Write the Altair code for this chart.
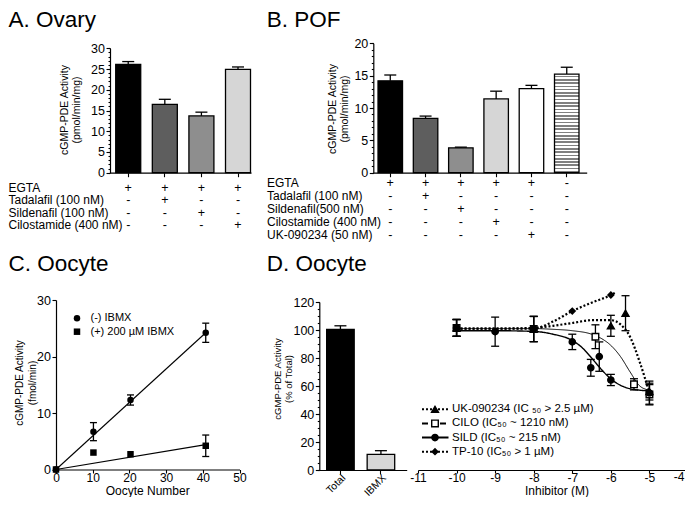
import altair as alt
import pandas as pd

FONT = "Liberation Sans"
W, H = 677, 489

# ---------------- data ----------------
panel_titles = ["A. Ovary", "B. POF", "C. Oocyte", "D. Oocyte"]

a_keys = ["EGTA", "Tadalafil", "Sildenafil", "Cilostamide"]
a_values = [26.1, 16.5, 13.7, 24.9]
a_sem = [0.7, 1.2, 0.9, 0.6]
a_rows = ["EGTA", "Tadalafil (100 nM)", "Sildenafil (100 nM)", "Cilostamide (400 nM)"]
a_signs = [["+", "+", "+", "+"],
           ["-", "+", "-", "-"],
           ["-", "-", "+", "-"],
           ["-", "-", "-", "+"]]
a_ytitle = "cGMP-PDE  Activity\n(pmol/min/mg)"

b_keys = ["EGTA", "Tadalafil", "Sildenafil", "Cilostamide", "UK-090234", "None"]
b_values = [14.2, 8.4, 3.85, 11.4, 13.0, 15.25]
b_sem = [0.9, 0.35, 0.1, 1.2, 0.5, 1.05]
b_rows = ["EGTA", "Tadalafil (100 nM)", "Sildenafil(500 nM)", "Cilostamide (400 nM)", "UK-090234 (50 nM)"]
b_signs = [["+", "+", "+", "+", "+", "-"],
           ["-", "+", "-", "-", "-", "-"],
           ["-", "-", "+", "-", "-", "-"],
           ["-", "-", "-", "+", "-", "-"],
           ["-", "-", "-", "-", "+", "-"]]
b_ytitle = "cGMP-PDE  Activity\n(pmol/min/mg)"

c_oocytes = [0, 10.2, 20.3, 40.8]
c_minus = [0, 6.7, 12.3, 24.2]
c_minus_sem = [0, 1.6, 0.9, 1.7]
c_plus = [0, 3.0, 2.7, 4.2]
c_plus_sem = [0, 0, 0, 1.9]
c_fit_x = [0, 40.8]
c_fit_minus = [0, 24.2]
c_fit_plus = [0, 4.4]
c_series = ["(-) IBMX", "(+) 200  \u00b5M IBMX"]
c_ytitle = "cGMP-PDE Activity\n(fmol/min)"
c_xtitle = "Oocyte Number"

d_bar_keys = ["Total", "IBMX"]
d_bar_values = [100.4, 11.2]
d_bar_sem = [2.6, 2.6]
d_ytitle = "cGMP-PDE  Activity\n(% of Total)"
d_xtitle = "Inhibitor (M)"
d_ticks = [-11, -10, -9, -8, -7, -6, -5, -4]
d_series = ["UK-090234", "CILO", "SILD", "TP-10"]
d_legend = ["UK-090234 (IC \u2085\u2080 > 2.5 \u00b5M)", "CILO (IC\u2085\u2080 ~ 1210 nM)",
            "SILD (IC\u2085\u2080 ~ 215 nM)", "TP-10 (IC\u2085\u2080 > 1 \u00b5M)"]

uk_x = [-10, -8, -6, -5.62, -5]
uk_y = [101.5, 100.7, 103, 112, 56]
uk_sem = [6, 9, 7.5, 12.5, 6]
cilo_x = [-10, -8, -6.4, -5.4, -5]
cilo_y = [101.5, 100.7, 95.2, 61.2, 54]
cilo_sem = [6, 9, 8.5, 4, 7]
sild_x = [-10, -9, -8, -7, -6.52, -6.3, -6, -5]
sild_y = [101.5, 98.8, 100.7, 91.5, 73, 81, 64.3, 55]
sild_sem = [6, 10.4, 9, 5.5, 6, 10.5, 4, 8.5]
tp_x = [-10, -9, -8, -7, -6]
tp_y = [101.5, 98.8, 100.7, 113.5, 125]
tp_sem = [6, 0, 0, 0, 0]

uk_fit_x = [-10, -9, -8, -7.5, -7, -6.5, -6, -5.75, -5.5, -5.25, -5]
uk_fit_y = [101, 101, 101.5, 103, 105, 107, 107, 104, 95, 77, 55]
cilo_fit_x = [-10, -9, -8, -7.5, -7, -6.5, -6.25, -6, -5.75, -5.5, -5.25, -5]
cilo_fit_y = [101, 101, 101, 100.5, 99.5, 97, 94, 89, 81, 70, 60, 57]
sild_fit_x = [-10, -9, -8, -7.5, -7, -6.75, -6.5, -6.25, -6, -5.75, -5.5, -5.25, -5]
sild_fit_y = [99.5, 99.5, 99, 97, 92.5, 87.5, 80, 72, 65, 60.5, 58, 57, 56.5]
tp_fit_x = [-10, -9, -8, -7.5, -7, -6.5, -6, -5.9]
tp_fit_y = [101, 101, 101, 106, 113.5, 119.5, 125, 126.5]


# ---------------- layout helpers ----------------
def P(v):
    """page pixel -> chart pixel (page has an 8px margin)"""
    return v - 8


def yaxis(xpx, values):
    return alt.Axis(orient="left", offset=-P(xpx), values=values, tickSize=4,
                    labelPadding=1.5, title=None)


def yminor(xpx, values):
    return alt.Axis(orient="left", offset=-P(xpx), values=values, tickSize=2,
                    labels=False, domain=False, title=None)


def xband_axis(ypx, labels=False, **kw):
    return alt.Axis(orient="bottom", offset=P(ypx) - H, labels=labels, title=None,
                    tickSize=4, bandPosition=0.5, **kw)


def q(domain, rng):
    return alt.Scale(domain=domain, range=rng, nice=False, zero=False)


xA = alt.Scale(type="band", domain=a_keys, range=[P(110), P(251)],
               paddingInner=0.317, paddingOuter=0.085, align=0.92)
yA = q([0, 30], [P(172.7), P(48.3)])
xB = alt.Scale(type="band", domain=b_keys, range=[P(373.3), P(586.7)],
               paddingInner=0.306, paddingOuter=0.176, align=0.38)
yB = q([0, 20], [P(172.7), P(43.3)])
xC = q([0, 50], [P(56), P(239.5)])
yC = q([0, 30], [P(469.5), P(300)])
xDb = alt.Scale(type="band", domain=d_bar_keys, range=[P(319.3), P(406.7)],
                paddingInner=0.32, paddingOuter=0.239, align=0.38)
yD = q([0, 120], [P(470), P(302)])
xD = q([-11, -4], [P(418), P(688)])

layers = []


def bar_panel(keys, values, sem, fills, xs, ys, xpx, ypx, major, minor, plain_n=None,
              cap=12, labels=False, **ax_kw):
    df = pd.DataFrame({"k": keys, "v": values, "e": sem})
    df["hi"] = df["v"] + df["e"]
    n = plain_n if plain_n is not None else len(keys)
    out = [
        alt.Chart(df.iloc[:n]).mark_bar(stroke="black", strokeWidth=1.3).encode(
            x=alt.X("k:N", scale=xs, axis=xband_axis(ypx, labels=labels, **ax_kw)),
            y=alt.Y("v:Q", scale=ys, axis=yaxis(xpx, major)),
            fill=alt.Fill("k:N", scale=alt.Scale(domain=keys[:len(fills)], range=fills), legend=None),
        ),
        alt.Chart(df).mark_rule(color="black", strokeWidth=1.3).encode(
            x=alt.X("k:N", scale=xs, axis=None),
            y=alt.Y("v:Q", scale=ys, axis=yminor(xpx, minor)),
            y2="hi:Q",
        ),
        alt.Chart(df).mark_tick(orient="horizontal", size=cap, thickness=1.3,
                                color="black", opacity=1).encode(
            x=alt.X("k:N", scale=xs, axis=None),
            y=alt.Y("hi:Q", scale=ys, axis=None),
        ),
    ]
    return out, df


def table(keys, rows, signs, xs, label_x, row_top, row_bottom):
    n = len(rows)
    rs = q([0, n - 1], [P(row_top), P(row_bottom)])
    cells = pd.DataFrame([{"r": i, "k": keys[j], "s": signs[i][j]}
                          for i in range(n) for j in range(len(keys))])
    labs = pd.DataFrame({"r": list(range(n)), "t": rows})
    return [
        alt.Chart(cells).mark_text(fontSize=12.5, font=FONT, baseline="middle", color="black").encode(
            x=alt.X("k:N", scale=xs, axis=None),
            y=alt.Y("r:Q", scale=rs, axis=None),
            text="s:N",
        ),
        alt.Chart(labs).mark_text(fontSize=12, font=FONT, align="left", baseline="middle",
                                  color="black").encode(
            x=alt.value(P(label_x)),
            y=alt.Y("r:Q", scale=rs, axis=None),
            text="t:N",
        ),
    ]


def ytitle(text, xpx, ypx, size, lh):
    return alt.Chart(pd.DataFrame({"t": [text]})).mark_text(
        angle=270, lineBreak="\n", lineHeight=lh, fontSize=size, font=FONT,
        align="center", baseline="middle", color="black").encode(
        x=alt.value(P(xpx)), y=alt.value(P(ypx)), text="t:N")


def xtitle(text, xpx, ypx):
    return alt.Chart(pd.DataFrame({"t": [text]})).mark_text(
        fontSize=12, font=FONT, align="center", baseline="alphabetic", color="black").encode(
        x=alt.value(P(xpx)), y=alt.value(P(ypx)), text="t:N")


# ---------------- Panel A ----------------
la, _ = bar_panel(a_keys, a_values, a_sem, ["#000000", "#5e5e5e", "#8e8e8e", "#d6d6d6"],
                  xA, yA, 110, 172.7, list(range(0, 31, 5)), list(range(0, 31)))
layers += la
layers += table(a_keys, a_rows, a_signs, xA, 8.5, 187.7, 225.2)
layers.append(ytitle(a_ytitle, 65, 110, 10.5, 12))

# ---------------- Panel B ----------------
lb, dfB = bar_panel(b_keys, b_values, b_sem,
                    ["#000000", "#5e5e5e", "#8e8e8e", "#d6d6d6", "#ffffff"],
                    xB, yB, 373.3, 172.7, list(range(0, 21, 5)), list(range(0, 21)), plain_n=5)
stops = []
N = 30
for k in range(N):
    stops += [alt.GradientStop(offset=k / N, color="#ffffff"),
              alt.GradientStop(offset=(k + 0.5) / N, color="#ffffff"),
              alt.GradientStop(offset=(k + 0.5) / N, color="#808080"),
              alt.GradientStop(offset=(k + 1) / N, color="#808080")]
stripe = alt.LinearGradient(gradient="linear", stops=stops, x1=0, x2=0, y1=0, y2=1)
lb.insert(1, alt.Chart(dfB.iloc[5:]).mark_bar(fill=stripe, stroke="black", strokeWidth=1.3).encode(
    x=alt.X("k:N", scale=xB, axis=None),
    y=alt.Y("v:Q", scale=yB, axis=None),
))
layers += lb
layers += table(b_keys, b_rows, b_signs, xB, 267, 183.2, 235.2)
layers.append(ytitle(b_ytitle, 332.5, 109, 10.5, 12))

# ---------------- Panel C ----------------
fitC = pd.DataFrame({
    "x": c_fit_x + c_fit_x,
    "y": c_fit_minus + c_fit_plus,
    "s": [c_series[0]] * len(c_fit_x) + [c_series[1]] * len(c_fit_x),
})
ptsC = pd.DataFrame({
    "x": c_oocytes + c_oocytes,
    "y": c_minus + c_plus,
    "e": c_minus_sem + c_plus_sem,
    "s": [c_series[0]] * len(c_oocytes) + [c_series[1]] * len(c_oocytes),
})
ptsC["lo"] = ptsC["y"] - ptsC["e"]
ptsC["hi"] = ptsC["y"] + ptsC["e"]
errC = ptsC[ptsC["e"] > 0]
capsC = pd.concat([errC[["x", "lo"]].rename(columns={"lo": "c"}),
                   errC[["x", "hi"]].rename(columns={"hi": "c"})])
shapeC = alt.Scale(domain=c_series, range=["circle", "square"])

layers += [
    alt.Chart(fitC).mark_line(color="black", strokeWidth=1.1).encode(
        x=alt.X("x:Q", scale=xC, axis=alt.Axis(orient="bottom", offset=P(469.5) - H,
                                               values=[0, 10, 20, 30, 40, 50], tickSize=3.5,
                                               labelPadding=-1, labelFontSize=12, title=None)),
        y=alt.Y("y:Q", scale=yC, axis=yaxis(56, [0, 10, 20, 30])),
        detail="s:N",
    ),
    alt.Chart(errC).mark_rule(color="black", strokeWidth=1.3).encode(
        x=alt.X("x:Q", scale=xC, axis=None),
        y=alt.Y("lo:Q", scale=yC, axis=None),
        y2="hi:Q",
    ),
    alt.Chart(capsC).mark_tick(orient="horizontal", size=7, thickness=1.3, color="black",
                               opacity=1).encode(
        x=alt.X("x:Q", scale=xC, axis=None),
        y=alt.Y("c:Q", scale=yC, axis=None),
    ),
    alt.Chart(ptsC).mark_point(filled=True, color="black", opacity=1, size=42).encode(
        x=alt.X("x:Q", scale=xC, axis=None),
        y=alt.Y("y:Q", scale=yC, axis=None),
        shape=alt.Shape("s:N", scale=shapeC, legend=None),
    ),
]
legC = pd.DataFrame({"r": [0, 1], "s": c_series})
rowC = q([0, 1], [P(318.3), P(331.7)])
layers += [
    alt.Chart(legC).mark_point(filled=True, color="black", opacity=1, size=42).encode(
        x=alt.value(P(77)),
        y=alt.Y("r:Q", scale=rowC, axis=None),
        shape=alt.Shape("s:N", scale=shapeC, legend=None),
    ),
    alt.Chart(legC).mark_text(align="left", baseline="middle", fontSize=11, font=FONT,
                              color="black").encode(
        x=alt.value(P(90.5)),
        y=alt.Y("r:Q", scale=rowC, axis=None),
        text="s:N",
    ),
]
layers.append(ytitle(c_ytitle, 20, 383, 10, 13))
layers.append(xtitle(c_xtitle, 147.7, 495))

# ---------------- Panel D (bars) ----------------
ld, _ = bar_panel(d_bar_keys, d_bar_values, d_bar_sem, ["#000000", "#d6d6d6"],
                  xDb, yD, 319.3, 470, list(range(0, 121, 20)), list(range(0, 121, 5)),
                  cap=12, labels=True, labelAngle=-45, labelFontSize=10.5, labelPadding=-1.5,
                  labelAlign="right", labelBaseline="top")
layers += ld
layers.append(ytitle(d_ytitle, 277.5, 379, 9.5, 11.5))

# ---------------- Panel D (inhibitor curves) ----------------
curve_specs = [
    (uk_fit_x, uk_fit_y, [2, 2], 2.2),
    (cilo_fit_x, cilo_fit_y, [1, 0], 1.0),
    (sild_fit_x, sild_fit_y, [1, 0], 1.4),
    (tp_fit_x, tp_fit_y, [2, 2], 2.2),
]
last_tick = d_ticks[-1]
for i, (cx, cy, dash, sw) in enumerate(curve_specs):
    axis_x = alt.Axis(
        orient="bottom", offset=P(470) - H, values=d_ticks, tickSize=3, labelPadding=-1,
        labelFontSize=12, title=None,
        labelExpr=f"datum.value == {last_tick} ? '' : '' + datum.value",
    ) if i == 0 else None
    layers.append(
        alt.Chart(pd.DataFrame({"x": cx, "y": cy})).mark_line(
            color="black", strokeWidth=sw, strokeDash=dash, interpolate="monotone").encode(
            x=alt.X("x:Q", scale=xD, axis=axis_x),
            y=alt.Y("y:Q", scale=yD, axis=None),
        )
    )
# last tick label, kept inside the visible page edge
layers.append(
    alt.Chart(pd.DataFrame({"x": [last_tick], "t": [str(last_tick)]})).mark_text(
        align="right", baseline="top", dx=-3.5, fontSize=12, font=FONT, color="black").encode(
        x=alt.X("x:Q", scale=xD, axis=None),
        y=alt.value(P(472)),
        text="t:N",
    )
)
layers.append(xtitle(d_xtitle, 557, 495))

ptsD = pd.concat([
    pd.DataFrame({"x": uk_x, "y": uk_y, "e": uk_sem, "s": d_series[0]}),
    pd.DataFrame({"x": cilo_x, "y": cilo_y, "e": cilo_sem, "s": d_series[1]}),
    pd.DataFrame({"x": sild_x, "y": sild_y, "e": sild_sem, "s": d_series[2]}),
    pd.DataFrame({"x": tp_x, "y": tp_y, "e": tp_sem, "s": d_series[3]}),
], ignore_index=True)
ptsD["lo"] = ptsD["y"] - ptsD["e"]
ptsD["hi"] = ptsD["y"] + ptsD["e"]
errD = ptsD[ptsD["e"] > 0]
capsD = pd.concat([errD[["x", "lo"]].rename(columns={"lo": "c"}),
                   errD[["x", "hi"]].rename(columns={"hi": "c"})])
shapeD = alt.Scale(domain=d_series, range=["triangle-up", "square", "circle", "diamond"])
fillD = alt.Scale(domain=d_series, range=["#000000", "#ffffff", "#000000", "#000000"])
sizeD = alt.Scale(domain=d_series, range=[48, 34, 40, 56])

layers += [
    alt.Chart(errD).mark_rule(color="black", strokeWidth=1.3).encode(
        x=alt.X("x:Q", scale=xD, axis=None),
        y=alt.Y("lo:Q", scale=yD, axis=None),
        y2="hi:Q",
    ),
    alt.Chart(capsD).mark_tick(orient="horizontal", size=8, thickness=1.3, color="black",
                               opacity=1).encode(
        x=alt.X("x:Q", scale=xD, axis=None),
        y=alt.Y("c:Q", scale=yD, axis=None),
    ),
    alt.Chart(ptsD).mark_point(stroke="black", strokeWidth=1.4, opacity=1, fillOpacity=1).encode(
        x=alt.X("x:Q", scale=xD, axis=None),
        y=alt.Y("y:Q", scale=yD, axis=None),
        shape=alt.Shape("s:N", scale=shapeD, legend=None),
        fill=alt.Fill("s:N", scale=fillD, legend=None),
        size=alt.Size("s:N", scale=sizeD, legend=None),
    ),
]

legD = pd.DataFrame({"r": [0, 1, 2, 3], "s": d_series, "t": d_legend})
rowD = q([0, 3], [P(409.3), P(451.7)])
dashD = alt.Scale(domain=d_series, range=[[2, 2], [6, 3], [1, 0], [2, 2]])
layers += [
    alt.Chart(legD).mark_rule(color="black", strokeWidth=2).encode(
        x=alt.value(P(422)), x2=alt.value(P(448.5)),
        y=alt.Y("r:Q", scale=rowD, axis=None),
        strokeDash=alt.StrokeDash("s:N", scale=dashD, legend=None),
    ),
    alt.Chart(legD).mark_point(stroke="black", strokeWidth=1.4, opacity=1, fillOpacity=1).encode(
        x=alt.value(P(435)),
        y=alt.Y("r:Q", scale=rowD, axis=None),
        shape=alt.Shape("s:N", scale=shapeD, legend=None),
        fill=alt.Fill("s:N", scale=fillD, legend=None),
        size=alt.Size("s:N", scale=sizeD, legend=None),
    ),
    alt.Chart(legD).mark_text(align="left", baseline="middle", fontSize=11.5, font=FONT,
                              color="black").encode(
        x=alt.value(P(452)),
        y=alt.Y("r:Q", scale=rowD, axis=None),
        text="t:N",
    ),
]

# ---------------- panel titles ----------------
titles = pd.DataFrame({"t": panel_titles, "c": [0, 1, 0, 1], "r": [0, 0, 1, 1]})
layers.append(
    alt.Chart(titles).mark_text(align="left", baseline="alphabetic", fontSize=22.5, font=FONT,
                                color="black").encode(
        x=alt.X("c:Q", scale=q([0, 1], [P(8.5), P(266.7)]), axis=None),
        y=alt.Y("r:Q", scale=q([0, 1], [P(26.5), P(270.5)]), axis=None),
        text="t:N",
    )
)

chart = (
    alt.layer(*layers)
    .resolve_scale(x="independent", y="independent", fill="independent",
                   shape="independent", size="independent", strokeDash="independent")
    .resolve_axis(x="independent", y="independent")
    .properties(width=W, height=H, autosize=alt.AutoSizeParams(type="none"), padding=0)
    .configure_view(stroke=None)
    .configure_axis(domainColor="black", tickColor="black", labelColor="black",
                    labelFont=FONT, labelFontSize=12.5, titleFont=FONT, titleFontSize=12.5,
                    titleFontWeight="normal", titleColor="black", grid=False,
                    domainWidth=1.2, tickWidth=1.1, labelFlush=False, labelOverlap=False,
                    labelBound=False)
)

chart.save("out.html", embed_options={"renderer": "svg", "actions": False})
